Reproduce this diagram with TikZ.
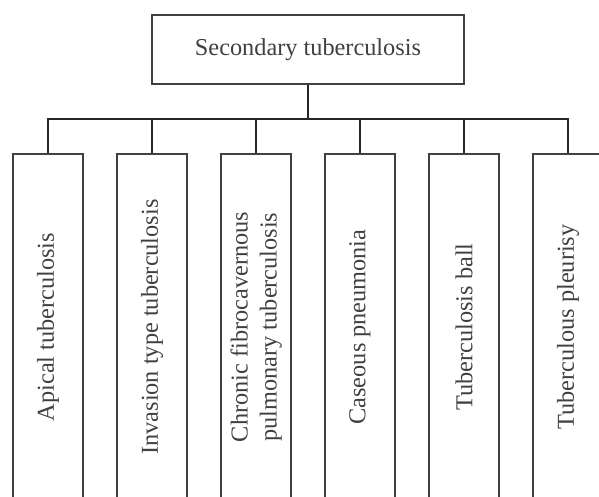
\documentclass[tikz,border=0pt]{standalone}
\usepackage{fontspec}
\setmainfont{Liberation Serif}
\tikzset{
  box/.style={draw=black!75, line width=1.3pt, fill=white, text=black!75,
    font=\fontsize{24.3}{31}\selectfont, inner sep=0pt, align=center},
  childbox/.style={box, minimum width=70pt, minimum height=346pt},
  conn/.style={draw=black!85, line width=1.3pt}
}
\begin{document}
\begin{tikzpicture}[x=1pt,y=-1pt]
\useasboundingbox (0,0) rectangle (599,497);
\clip (0,0) rectangle (599,497);
\node[box, minimum width=312pt, minimum height=69pt] (top) at (308,49.5) {Secondary tuberculosis};
\coordinate (bar) at (308,119);
\node[childbox] (c1) at (48,327) {\rotatebox{90}{Apical tuberculosis}};
\node[childbox] (c2) at (152,327) {\rotatebox{90}{Invasion type tuberculosis}};
\node[childbox] (c3) at (256,327) {\rotatebox{90}{\begin{tabular}{@{}c@{}}Chronic fibrocavernous\\[-2pt] pulmonary tuberculosis\end{tabular}}};
\node[childbox] (c4) at (360,327) {\rotatebox{90}{Caseous pneumonia}};
\node[childbox] (c5) at (464,327) {\rotatebox{90}{Tuberculosis ball}};
\node[childbox] (c6) at (568,327) {\rotatebox{90}{Tuberculous pleurisy}};
\draw[conn] (top.south) -- (bar);
\draw[conn] (c1.north) -- (c1.north |- bar) -- (c6.north |- bar) -- (c6.north);
\foreach \c in {c2,c3,c4,c5} \draw[conn] (\c.north) -- (\c.north |- bar);
\end{tikzpicture}
\end{document}
